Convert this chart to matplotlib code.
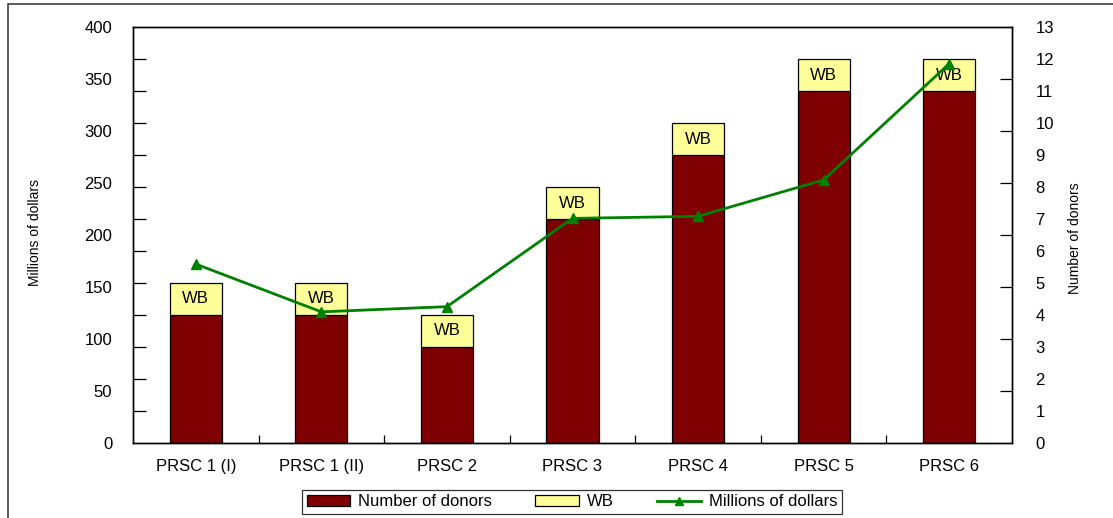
import numpy as np
import matplotlib
matplotlib.use("Agg")
import matplotlib.pyplot as plt
from matplotlib.patches import Rectangle

plt.rcParams['font.family'] = ['Liberation Sans', 'DejaVu Sans']

categories = ["PRSC 1 (I)", "PRSC 1 (II)", "PRSC 2", "PRSC 3", "PRSC 4", "PRSC 5", "PRSC 6"]
donors = [4, 4, 3, 7, 9, 11, 11]
wb = [1, 1, 1, 1, 1, 1, 1]
millions = [172, 126, 131, 216, 218, 253, 365]

dark_red = "#7F0000"
yellow = "#FFFF99"
green = "#008000"
fs = 12

fig = plt.figure(figsize=(11.13, 5.18), dpi=100)
ax = fig.add_axes([133/1113, 1-442.7/518, (1012-133)/1113, (442.7-27.3)/518])
ax2 = ax.twinx()

x = np.arange(len(categories))
w = 0.415
ax2.bar(x, donors, w, color=dark_red, edgecolor="black", linewidth=0.9, label="Number of donors")
ax2.bar(x, wb, w, bottom=donors, color=yellow, edgecolor="black", linewidth=0.9, label="WB")
for xi, d, b in zip(x, donors, wb):
    ax2.text(xi, d + b/2, "WB", ha="center", va="center", fontsize=fs, color="black")

ax.plot(x, millions, color=green, linewidth=2, marker="^", markersize=7, label="Millions of dollars")
ax.set_zorder(ax2.get_zorder() + 1)
ax.patch.set_visible(False)

ax.set_xlim(-0.5, len(categories) - 0.5)
ax.set_ylim(0, 400)
ax2.set_ylim(0, 13)

# left axis: labels every 50, tick marks at 13 divisions
ax.set_yticks(np.arange(0, 401, 50))
ax.set_yticks(np.linspace(0, 400, 14), minor=True)
ax.tick_params(axis="y", which="major", length=0, pad=15, labelsize=fs)
ax.tick_params(axis="y", which="minor", direction="in", length=9, width=0.9)

# right axis: labels every 1, tick marks at 8 divisions
ax2.set_yticks(np.arange(0, 14, 1))
ax2.set_yticks(np.linspace(0, 13, 9), minor=True)
ax2.tick_params(axis="y", which="major", length=0, pad=17, labelsize=fs)
ax2.tick_params(axis="y", which="minor", direction="in", length=9, width=0.9)

# x axis
ax.set_xticks(x)
ax.set_xticklabels(categories, fontsize=fs)
ax.set_xticks(np.arange(0.5, len(categories) - 0.5, 1), minor=True)
ax.tick_params(axis="x", which="major", length=0, pad=12)
ax.tick_params(axis="x", which="minor", direction="in", length=6, width=0.9)
ax2.tick_params(axis="x", which="both", length=0)

for a in (ax, ax2):
    for s in a.spines.values():
        s.set_color("black")
        s.set_linewidth(1.0)

fig.text(35/1113, 1-233/518, "Millions of dollars", rotation=90, ha="center", va="center", fontsize=10)
fig.text(1075/1113, 1-238/518, "Number of donors", rotation=90, ha="center", va="center", fontsize=10)

h2, l2 = ax2.get_legend_handles_labels()
h1, l1 = ax.get_legend_handles_labels()
leg = fig.legend(h2 + h1, l2 + l1, loc="center", bbox_to_anchor=(572/1113, 1-502/518), ncol=3,
                 fontsize=fs, frameon=True, fancybox=False, edgecolor="black",
                 handlelength=2.6, handleheight=0.6, columnspacing=2.6, handletextpad=0.5,
                 borderpad=0.25, markerscale=0.8)
leg.get_frame().set_linewidth(0.9)

fig.patches.append(Rectangle((8/1113, -0.1), 1.2, 1.1 - 4/518, transform=fig.transFigure,
                             fill=False, edgecolor="#404040", linewidth=1.2))

fig.savefig("out.png", dpi=100)
